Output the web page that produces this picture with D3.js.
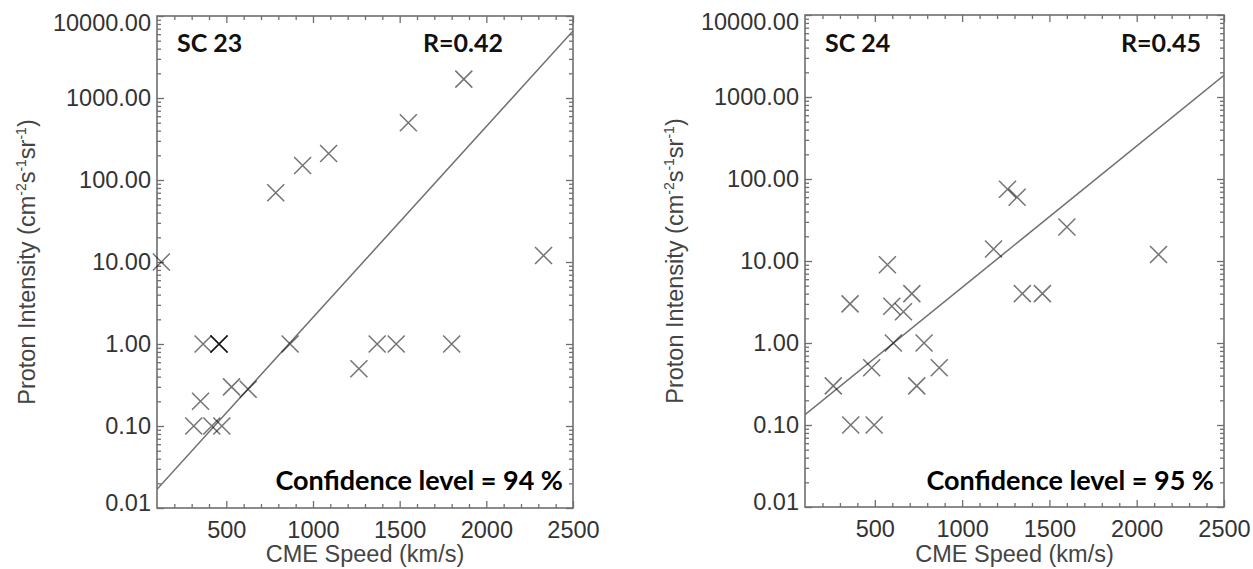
<!DOCTYPE html>
<html>
<head>
<meta charset="utf-8">
<script src="https://cdn.jsdelivr.net/npm/d3@7"></script>
<style>
  body { margin: 0; background: #fff; }
  svg { display: block; }
</style>
</head>
<body>
<div class="container"></div>
<script>
// Solar cycle 23 events
const sc23Speed = [1870, 1550, 1090, 940, 785, 125, 2330, 366, 458, 458, 458, 868, 1370, 1480, 1800, 1265, 530, 626, 351, 312, 416, 474];
const sc23Intensity = [1700, 500, 210, 150, 70, 10, 12, 1, 1, 1, 1, 1, 1, 1, 1, 0.5, 0.3, 0.28, 0.2, 0.1, 0.1, 0.1];

// Solar cycle 24 events
const sc24Speed = [1260, 1315, 1600, 1180, 2125, 572, 712, 1345, 1460, 358, 597, 664, 606, 782, 482, 869, 262, 740, 362, 496];
const sc24Intensity = [75, 60, 26, 14, 12, 9, 4, 4, 4, 3, 2.8, 2.4, 1, 1, 0.5, 0.5, 0.3, 0.3, 0.1, 0.1];

// log10(I) = a + b * speed
const sc23Fit = [-2.005, 0.002329];
const sc24Fit = [-1.047, 0.001725];

const xMajorTicks = [500, 1000, 1500, 2000, 2500];
const yMajorTicks = [0.01, 0.1, 1, 10, 100, 1000, 10000];

const panels = [
    { name: "SC 23", r: "R=0.42", conf: "Confidence level = 94 %", speed: sc23Speed, intensity: sc23Intensity, fit: sc23Fit,
      x0: 157, x1: 573, y0: 16, y1: 508, rRight: 503, titleX: 177 },
    { name: "SC 24", r: "R=0.45", conf: "Confidence level = 95 %", speed: sc24Speed, intensity: sc24Intensity, fit: sc24Fit,
      x0: 805, x1: 1224, y0: 15, y1: 507, rRight: 1201, titleX: 825 }
];

const width = 1253, height = 569;
const grey = "#6f6f6f";
const numFont = "'Liberation Sans', Arial, sans-serif";
const boldFont = "Lato, 'Open Sans', sans-serif";

const svg = d3.select(".container").append("svg")
    .attr("width", width)
    .attr("height", height);

svg.append("rect").attr("width", width).attr("height", height).attr("fill", "#fff");

// minor ticks
const xMinorTicks = d3.range(200, 2500, 100).filter(v => v % 500 !== 0);
const yMinorTicks = [];
for (let e = -2; e < 4; e++) {
    for (let m = 2; m <= 9; m++) yMinorTicks.push(m * Math.pow(10, e));
}

panels.forEach((p, pi) => {
    const x = d3.scaleLinear().domain([100, 2500]).range([p.x0, p.x1]);
    const y = d3.scaleLog().domain([0.01, 10000]).range([p.y1, p.y0]);
    const g = svg.append("g");

    // axes (ticks point inward, labels only on left and bottom)
    function styleAxis(sel) {
        sel.select(".domain").remove();
        sel.selectAll(".tick line").attr("stroke", grey).attr("stroke-width", 1.3);
        sel.selectAll("text").attr("font-family", numFont).attr("font-size", 23.5).attr("fill", "#333");
    }

    const bottom = g.append("g").attr("transform", `translate(0,${p.y1})`)
        .call(d3.axisBottom(x).tickValues(xMajorTicks).tickSize(-7).tickPadding(13).tickFormat(d3.format("d")));
    styleAxis(bottom);
    const bottomMinor = g.append("g").attr("transform", `translate(0,${p.y1})`)
        .call(d3.axisBottom(x).tickValues(xMinorTicks).tickSize(-4).tickFormat(""));
    styleAxis(bottomMinor);
    const top = g.append("g").attr("transform", `translate(0,${p.y0})`)
        .call(d3.axisTop(x).tickValues(xMajorTicks).tickSize(-7).tickFormat(""));
    styleAxis(top);
    const topMinor = g.append("g").attr("transform", `translate(0,${p.y0})`)
        .call(d3.axisTop(x).tickValues(xMinorTicks).tickSize(-4).tickFormat(""));
    styleAxis(topMinor);

    const left = g.append("g").attr("transform", `translate(${p.x0},0)`)
        .call(d3.axisLeft(y).tickValues(yMajorTicks).tickSize(-7).tickPadding(6).tickFormat(d3.format(".2f")));
    styleAxis(left);
    // keep the end labels inside the frame height, as in the source figure
    left.selectAll(".tick text").attr("dy", d => d === 10000 ? "0.62em" : d === 0.01 ? "0.1em" : "0.32em");
    const leftMinor = g.append("g").attr("transform", `translate(${p.x0},0)`)
        .call(d3.axisLeft(y).tickValues(yMinorTicks).tickSize(-4).tickFormat(""));
    styleAxis(leftMinor);
    const right = g.append("g").attr("transform", `translate(${p.x1},0)`)
        .call(d3.axisRight(y).tickValues(yMajorTicks).tickSize(-7).tickFormat(""));
    styleAxis(right);
    const rightMinor = g.append("g").attr("transform", `translate(${p.x1},0)`)
        .call(d3.axisRight(y).tickValues(yMinorTicks).tickSize(-4).tickFormat(""));
    styleAxis(rightMinor);

    // frame
    g.append("rect")
        .attr("x", p.x0).attr("y", p.y0)
        .attr("width", p.x1 - p.x0).attr("height", p.y1 - p.y0)
        .attr("fill", "none").attr("stroke", grey).attr("stroke-width", 1.6);

    // axis titles
    g.append("text")
        .attr("x", (p.x0 + p.x1) / 2).attr("y", 562)
        .attr("text-anchor", "middle")
        .attr("font-family", numFont).attr("font-size", 23.5).attr("fill", "#444")
        .text("CME Speed (km/s)");

    const yTitle = g.append("text")
        .attr("transform", `translate(${p.x0 - 122},${(p.y0 + p.y1) / 2}) rotate(-90)`)
        .attr("text-anchor", "middle")
        .attr("font-family", numFont).attr("font-size", 23.5).attr("fill", "#444");
    yTitle.append("tspan").text("Proton Intensity (cm");
    yTitle.append("tspan").attr("font-size", 14).attr("dy", -9).text("-2");
    yTitle.append("tspan").attr("dy", 9).text("s");
    yTitle.append("tspan").attr("font-size", 14).attr("dy", -9).text("-1");
    yTitle.append("tspan").attr("dy", 9).text("sr");
    yTitle.append("tspan").attr("font-size", 14).attr("dy", -9).text("-1");
    yTitle.append("tspan").attr("dy", 9).text(")");

    // clip to frame
    const clipId = "clip" + pi;
    svg.append("clipPath").attr("id", clipId)
        .append("rect").attr("x", p.x0).attr("y", p.y0)
        .attr("width", p.x1 - p.x0).attr("height", p.y1 - p.y0);

    // regression line
    const fitPts = x.domain().map(v => [v, Math.pow(10, p.fit[0] + p.fit[1] * v)]);
    g.append("path")
        .datum(fitPts)
        .attr("clip-path", `url(#${clipId})`)
        .attr("fill", "none").attr("stroke", grey).attr("stroke-width", 1.5)
        .attr("d", d3.line().x(d => x(d[0])).y(d => y(d[1])));

    // crosses
    const s = 8.5;
    const pts = p.speed.map((v, i) => [v, p.intensity[i]]);
    g.append("g")
        .selectAll("path")
        .data(pts)
        .join("path")
        .attr("fill", "none")
        .attr("stroke", "#000").attr("stroke-opacity", 0.55).attr("stroke-width", 1.5)
        .attr("d", d => {
            const cx = x(d[0]), cy = y(d[1]);
            return `M${cx - s},${cy - s}L${cx + s},${cy + s}M${cx - s},${cy + s}L${cx + s},${cy - s}`;
        });

    // annotations
    g.append("text")
        .attr("x", p.titleX).attr("y", 52)
        .attr("font-family", boldFont).attr("font-weight", 700).attr("font-size", 25).attr("fill", "#111")
        .text(p.name);
    g.append("text")
        .attr("x", p.rRight).attr("y", 52).attr("text-anchor", "end")
        .attr("font-family", boldFont).attr("font-weight", 700).attr("font-size", 25).attr("fill", "#111")
        .text(p.r);
    g.append("text")
        .attr("x", p.x1 - 10).attr("y", 490).attr("text-anchor", "end")
        .attr("font-family", boldFont).attr("font-weight", 700).attr("font-size", 27).attr("fill", "#000")
        .text(p.conf);
});
</script>
</body>
</html>
